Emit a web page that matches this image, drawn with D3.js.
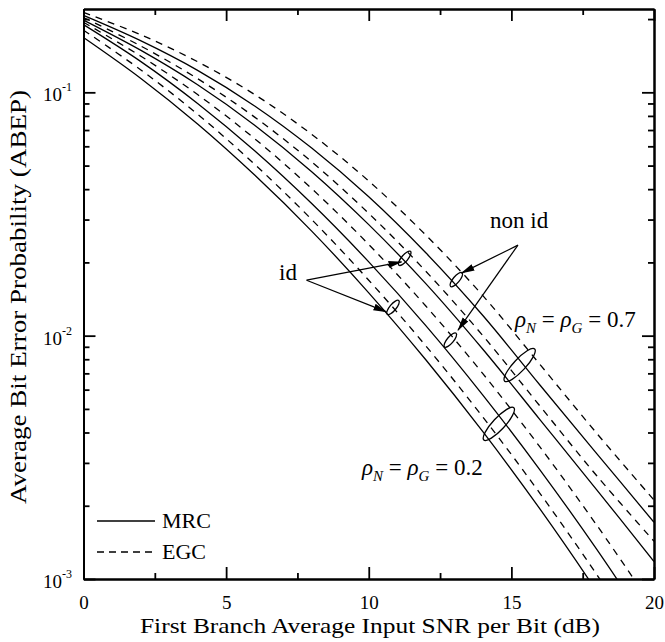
<!DOCTYPE html>
<html><head><meta charset="utf-8">
<script src="https://cdn.jsdelivr.net/npm/d3@7"></script>
<style>body{margin:0;background:#fff}svg{display:block}</style>
</head><body>
<svg id="chart" width="665" height="642"></svg>
<script>
// ---------------- data ----------------
const snrDb = [0, 2, 4, 6, 8, 10, 12, 14, 16, 18, 20];
// rho = 0.2
const mrcId02    = [0.168, 0.1143, 0.0741, 0.0457, 0.0269, 0.0150, 0.00796, 0.00403, 0.00194, 0.000887, 0.000386];
const egcId02    = [0.180, 0.1239, 0.0813, 0.0506, 0.0300, 0.0169, 0.00908, 0.00463, 0.00225, 0.00104, 0.000458];
const mrcNonId02 = [0.1897, 0.134, 0.0900, 0.0575, 0.0349, 0.0201, 0.0110, 0.00570, 0.00281, 0.00132, 0.000589];
const egcNonId02 = [0.194, 0.141, 0.0979, 0.0645, 0.0402, 0.0237, 0.01324, 0.00698, 0.00349, 0.00166, 0.000755];
// rho = 0.7
const mrcId07    = [0.198, 0.149, 0.1074, 0.0733, 0.0472, 0.0286, 0.01636, 0.00879, 0.00452, 0.00232, 0.00118];
const egcId07    = [0.203, 0.1552, 0.1138, 0.0791, 0.0518, 0.0318, 0.0184, 0.0100, 0.00514, 0.00265, 0.00143];
const mrcNonId07 = [0.207, 0.163, 0.1231, 0.0879, 0.0590, 0.0372, 0.0219, 0.0121, 0.00627, 0.00327, 0.00171];
const egcNonId07 = [0.213, 0.1726, 0.1336, 0.0979, 0.0672, 0.0432, 0.0259, 0.0146, 0.00762, 0.00396, 0.00211];

const series = [
  {name: "MRC id 0.2", type: "MRC", values: mrcId02},
  {name: "EGC id 0.2", type: "EGC", values: egcId02},
  {name: "MRC non id 0.2", type: "MRC", values: mrcNonId02},
  {name: "EGC non id 0.2", type: "EGC", values: egcNonId02},
  {name: "MRC id 0.7", type: "MRC", values: mrcId07},
  {name: "EGC id 0.7", type: "EGC", values: egcId07},
  {name: "MRC non id 0.7", type: "MRC", values: mrcNonId07},
  {name: "EGC non id 0.7", type: "EGC", values: egcNonId07}
];

const xMajorTicks = [0, 5, 10, 15, 20];
const xMinorTicks = [2.5, 7.5, 12.5, 17.5];
const yMajorTicks = [0.001, 0.01, 0.1];
const yTickExponents = ["-3", "-2", "-1"];
const xTitle = "First Branch Average Input SNR per Bit (dB)";
const yTitle = "Average Bit Error Probability (ABEP)";
const legendLabels = ["MRC", "EGC"];

// annotations (data coordinates: dB, BER)
const smallEllipses = [[11.26, 0.0208], [10.85, 0.01306], [13.07, 0.0170], [12.86, 0.00959]];
const idArrow = {from: [7.82, 0.0169], to: [[11.15, 0.0201], [10.62, 0.01253]]};
const nonIdArrow = {from: [15.23, 0.02355], to: [[13.25, 0.01807], [13.13, 0.01054]]};
const bigEllipses = [[15.29, 0.00757], [14.56, 0.00434]];

// ---------------- chart ----------------
const m = {left: 83.5, right: 654, top: 9, bottom: 579};
const svg = d3.select("#chart");
const font = "'Liberation Serif','Times New Roman',serif";

const x = d3.scaleLinear().domain([0, 20]).range([m.left, m.right]);
const y = d3.scaleLog().domain([0.001, 0.22]).range([m.bottom, m.top]);

const yMinorTicks = [];
for (const d of [0.001, 0.01, 0.1]) for (let k = 2; k <= 9; k++) { const v = d * k; if (v <= 0.22) yMinorTicks.push(v); }

const defs = svg.append("defs");
defs.append("clipPath").attr("id", "clip")
  .append("rect").attr("x", m.left).attr("y", m.top).attr("width", m.right - m.left).attr("height", m.bottom - m.top);

const line = d3.line().x((d, i) => x(snrDb[i])).y(d => y(d)).curve(d3.curveCatmullRom.alpha(0.5));

svg.append("g").attr("clip-path", "url(#clip)")
  .selectAll("path").data(series).join("path")
  .attr("d", s => line(s.values))
  .attr("fill", "none").attr("stroke", "#000").attr("stroke-width", 1.3)
  .attr("stroke-dasharray", s => s.type === "EGC" ? "7,6" : null);

// axes
function styleAxis(g) {
  g.select(".domain").attr("stroke", "#000").attr("stroke-width", 2);
  g.selectAll(".tick line").attr("stroke", "#000").attr("stroke-width", 1.8);
  g.selectAll(".tick text").attr("font-family", font).attr("font-size", 19).attr("fill", "#000");
}
const bottomAx = svg.append("g").attr("transform", `translate(0,${m.bottom})`)
  .call(d3.axisBottom(x).tickValues(xMajorTicks).tickSizeInner(-12).tickSizeOuter(0).tickPadding(17).tickFormat(d3.format("d")));
styleAxis(bottomAx);
bottomAx.selectAll(".tick text").attr("dy", "0.71em");
styleAxis(svg.append("g").attr("transform", `translate(0,${m.bottom})`)
  .call(d3.axisBottom(x).tickValues(xMinorTicks).tickSizeInner(-6).tickSizeOuter(0).tickFormat("")));
styleAxis(svg.append("g").attr("transform", `translate(0,${m.top})`)
  .call(d3.axisTop(x).tickValues(xMajorTicks).tickSizeInner(-12).tickSizeOuter(0).tickFormat("")));
styleAxis(svg.append("g").attr("transform", `translate(0,${m.top})`)
  .call(d3.axisTop(x).tickValues(xMinorTicks).tickSizeInner(-6).tickSizeOuter(0).tickFormat("")));
styleAxis(svg.append("g").attr("transform", `translate(${m.left},0)`)
  .call(d3.axisLeft(y).tickValues(yMajorTicks).tickSizeInner(-12).tickSizeOuter(0).tickFormat("")));
styleAxis(svg.append("g").attr("transform", `translate(${m.left},0)`)
  .call(d3.axisLeft(y).tickValues(yMinorTicks).tickSizeInner(-6).tickSizeOuter(0).tickFormat("")));
styleAxis(svg.append("g").attr("transform", `translate(${m.right},0)`)
  .call(d3.axisRight(y).tickValues(yMajorTicks).tickSizeInner(-12).tickSizeOuter(0).tickFormat("")));
styleAxis(svg.append("g").attr("transform", `translate(${m.right},0)`)
  .call(d3.axisRight(y).tickValues(yMinorTicks).tickSizeInner(-6).tickSizeOuter(0).tickFormat("")));

// y tick labels with exponents
yMajorTicks.forEach((v, i) => {
  const t = svg.append("text").attr("x", 43).attr("y", y(v) + 9)
    .attr("font-family", font).attr("font-size", 19).attr("fill", "#000");
  t.append("tspan").text("10");
  t.append("tspan").attr("dy", -10).attr("font-size", 12).text(yTickExponents[i]);
});

// titles
svg.append("text").attr("x", 370).attr("y", 633).attr("text-anchor", "middle")
  .attr("textLength", 460).attr("lengthAdjust", "spacingAndGlyphs")
  .attr("font-family", font).attr("font-size", 22).text(xTitle);
svg.append("text").attr("transform", `translate(26,297) rotate(-90)`).attr("text-anchor", "middle")
  .attr("textLength", 414).attr("lengthAdjust", "spacingAndGlyphs")
  .attr("font-family", font).attr("font-size", 23).text(yTitle);

// legend
const lg = svg.append("g");
[0, 1].forEach(i => {
  const yy = 521 + i * 31;
  lg.append("line").attr("x1", 97).attr("x2", 155).attr("y1", yy).attr("y2", yy)
    .attr("stroke", "#000").attr("stroke-width", 1.3).attr("stroke-dasharray", i === 1 ? "7,5" : null);
  lg.append("text").attr("x", 162).attr("y", yy + 7).attr("font-family", font).attr("font-size", 22).text(legendLabels[i]);
});

// annotations
defs.append("marker").attr("id", "arrow").attr("markerUnits", "userSpaceOnUse")
  .attr("markerWidth", 14).attr("markerHeight", 8).attr("refX", 13).attr("refY", 3.5).attr("orient", "auto")
  .append("path").attr("d", "M0,0 L14,3.5 L0,7 Z").attr("fill", "#000");

const ann = svg.append("g");
smallEllipses.forEach(([a, b]) => {
  ann.append("ellipse").attr("transform", `translate(${x(a)},${y(b)}) rotate(-50)`)
    .attr("rx", 9).attr("ry", 3.2).attr("fill", "none").attr("stroke", "#000").attr("stroke-width", 1.3);
});
bigEllipses.forEach(([a, b]) => {
  ann.append("ellipse").attr("transform", `translate(${x(a)},${y(b)}) rotate(-47)`)
    .attr("rx", 22).attr("ry", 6).attr("fill", "none").attr("stroke", "#000").attr("stroke-width", 1.3);
});
[idArrow, nonIdArrow].forEach(arr => {
  arr.to.forEach(t => {
    ann.append("line").attr("x1", x(arr.from[0])).attr("y1", y(arr.from[1]))
      .attr("x2", x(t[0])).attr("y2", y(t[1])).attr("stroke", "#000").attr("stroke-width", 1.2)
      .attr("marker-end", "url(#arrow)");
  });
});
ann.append("text").attr("x", 279).attr("y", 280).attr("font-family", font).attr("font-size", 23).text("id");
ann.append("text").attr("x", 490).attr("y", 228).attr("font-family", font).attr("font-size", 23).text("non id");

function rhoLabel(px, py, val) {
  const t = ann.append("text").attr("x", px).attr("y", py).attr("font-family", font).attr("font-size", 23);
  t.append("tspan").attr("font-style", "italic").text("ρ");
  t.append("tspan").attr("font-style", "italic").attr("font-size", 15).attr("dy", 6).text("N");
  t.append("tspan").attr("dy", -6).text(" = ");
  t.append("tspan").attr("font-style", "italic").text("ρ");
  t.append("tspan").attr("font-style", "italic").attr("font-size", 15).attr("dy", 6).text("G");
  t.append("tspan").attr("dy", -6).text(" = " + val);
}
rhoLabel(515, 327, "0.7");
rhoLabel(362, 475, "0.2");
</script>
</body></html>
